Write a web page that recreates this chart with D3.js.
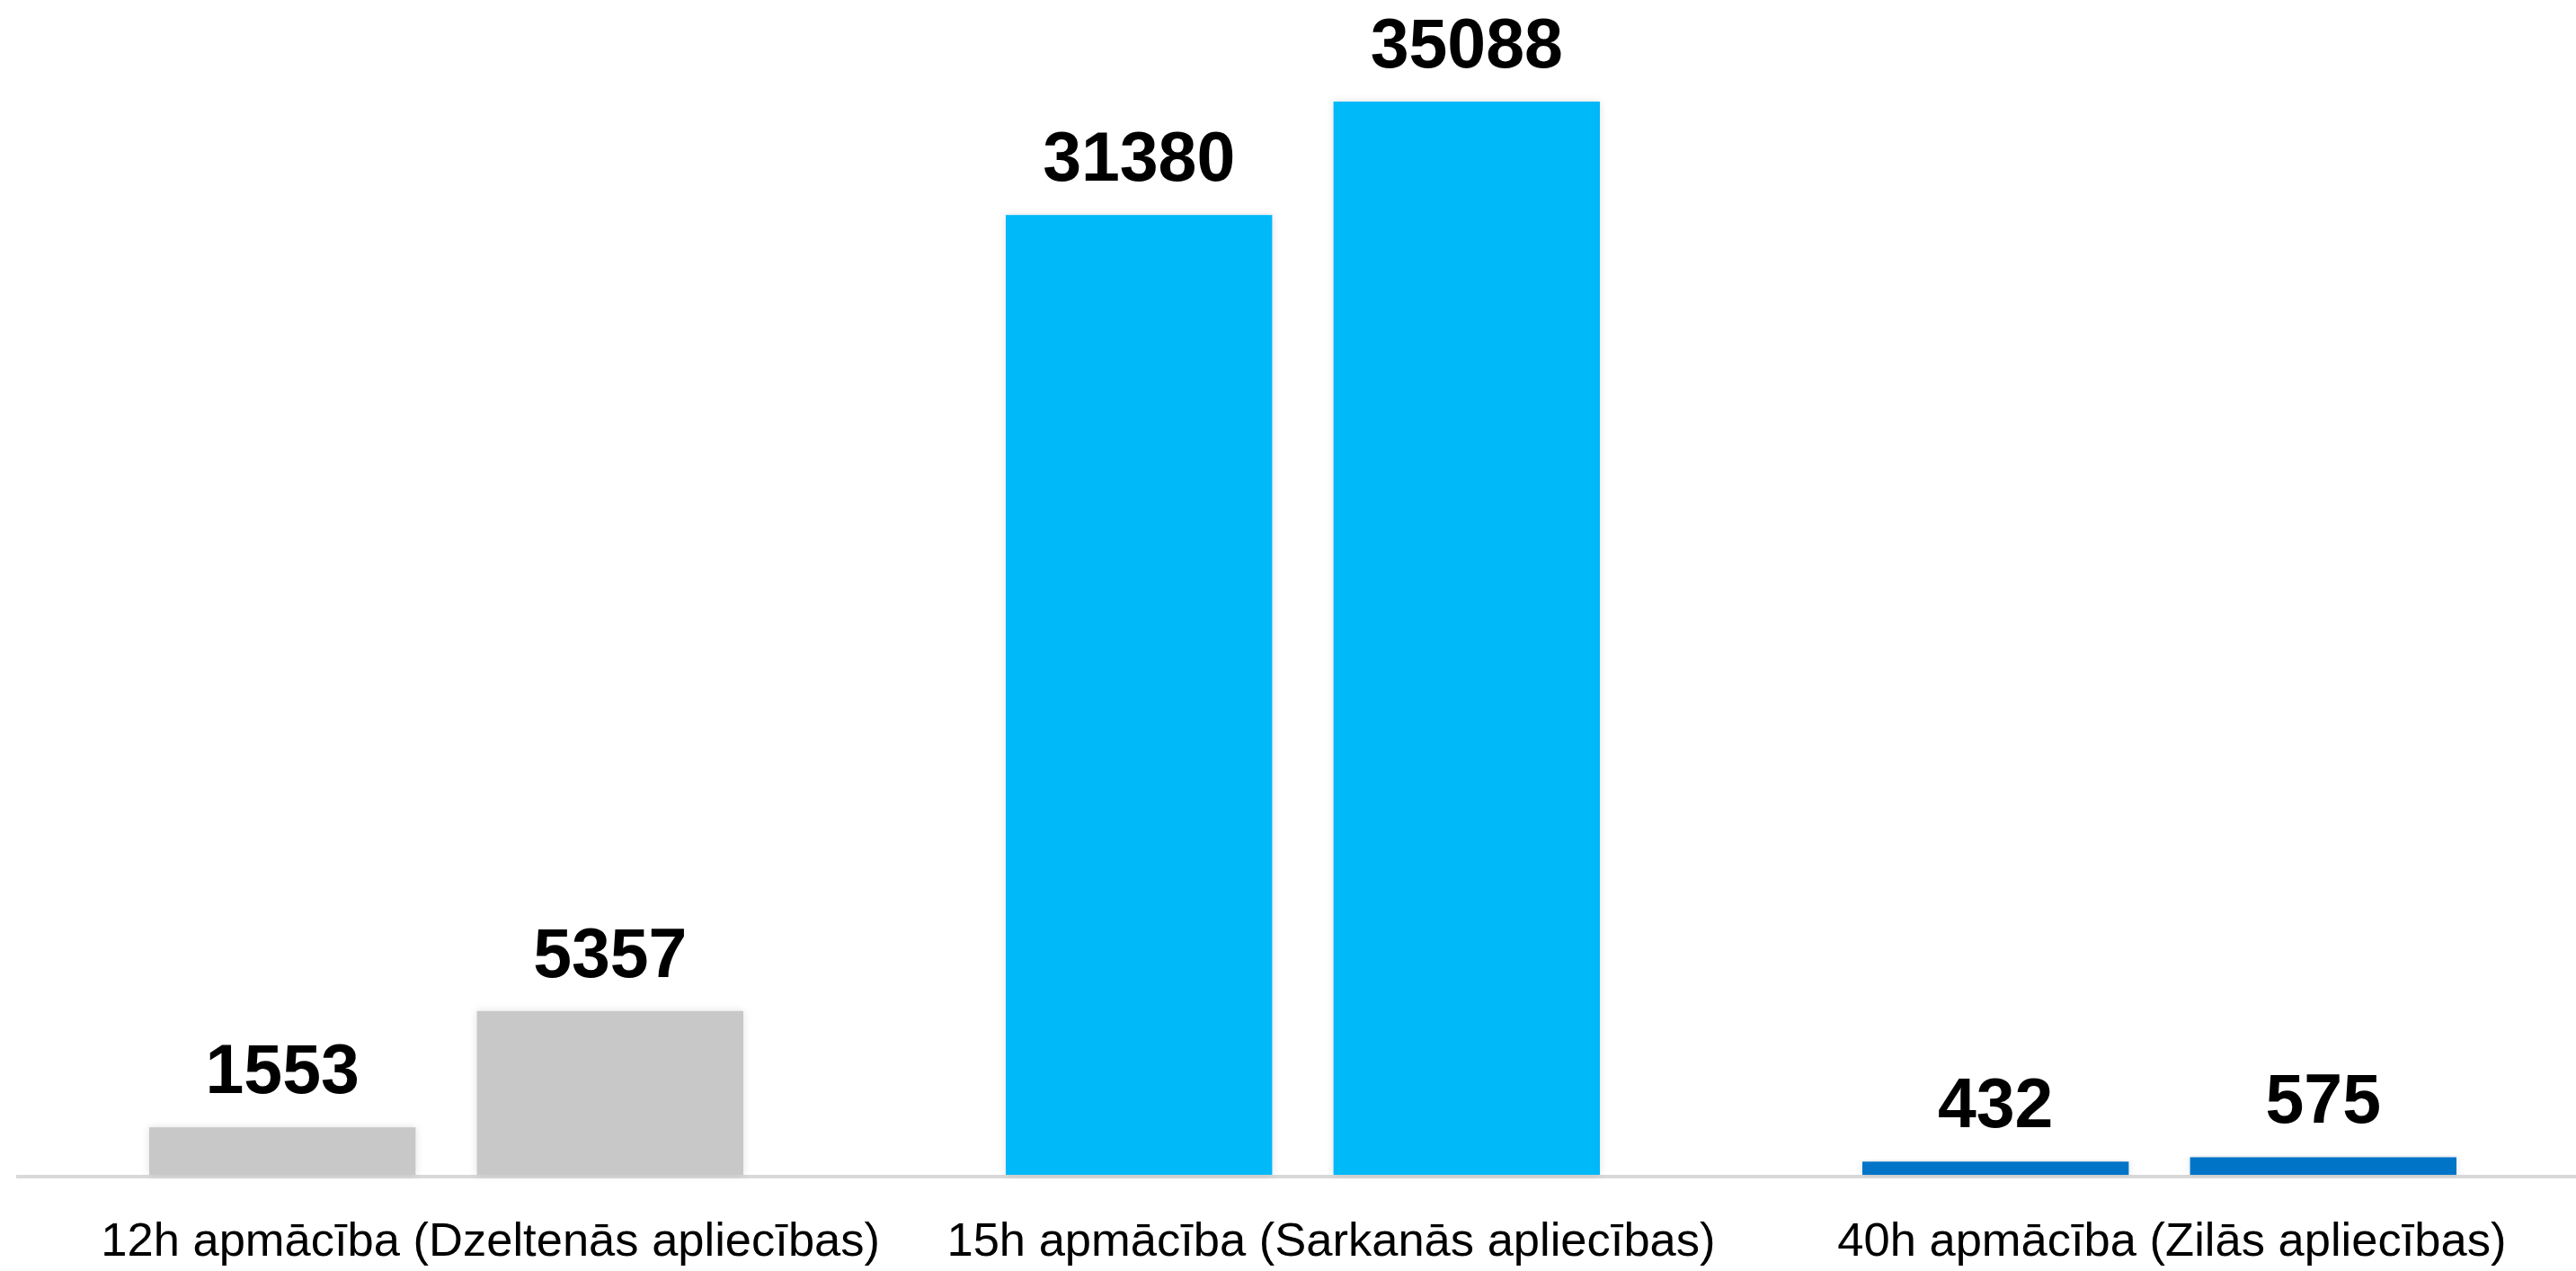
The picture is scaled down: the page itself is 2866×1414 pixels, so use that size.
<!DOCTYPE html>
<html>
<head>
<meta charset="utf-8">
<script src="https://cdn.jsdelivr.net/npm/d3@7"></script>
<style>
  body { margin: 0; background: #fff; }
  svg { display: block; }
  .value { font-family: 'Liberation Sans', Arial, sans-serif; font-weight: bold; fill: #000; }
  .cat { font-family: 'Liberation Sans', Arial, sans-serif; fill: #000; }
</style>
</head>
<body>
<svg id="chart"></svg>
<script>
const categories = [
  '12h apmācība (Dzeltenās apliecības)',
  '15h apmācība (Sarkanās apliecības)',
  '40h apmācība (Zilās apliecības)'
]
const series = ['a', 'b']
const valuesA = [1553, 31380, 432]
const valuesB = [5357, 35088, 575]
const colors = ['#c8c8c8', '#00b9f9', '#0474c8']

const dimensions = { w: 2866, h: 1414 }
const baseline = 1307

const svg = d3.select('#chart')
  .attr('width', dimensions.w)
  .attr('height', dimensions.h)

const defs = svg.append('defs')
const shadow = defs.append('filter')
  .attr('id', 'shadow')
  .attr('x', '-10%').attr('y', '-10%')
  .attr('width', '120%').attr('height', '120%')
shadow.append('feDropShadow')
  .attr('dx', 0).attr('dy', 0)
  .attr('stdDeviation', 4)
  .attr('flood-color', '#000')
  .attr('flood-opacity', 0.12)

const data = categories.map((c, i) => ({
  category: c,
  color: colors[i],
  bars: [
    { key: series[0], value: valuesA[i] },
    { key: series[1], value: valuesB[i] }
  ]
}))

const scales = {
  x0: d3.scaleBand()
    .domain(categories)
    .range([20, 2879]),
  // category labels sit a little off the bar groups in the original
  xLabel: d3.scaleBand()
    .domain(categories)
    .range([78, 2884]),
  y: d3.scaleLinear()
    .domain([0, 35088])
    .range([baseline, 113])
}
scales.x1 = d3.scaleBand()
  .domain(series)
  .range([146, scales.x0.bandwidth() - 146])
  .paddingInner(0.187)

// baseline
svg.append('line')
  .attr('x1', 18)
  .attr('x2', dimensions.w)
  .attr('y1', baseline + 2)
  .attr('y2', baseline + 2)
  .style('stroke', '#d9d9d9')
  .style('stroke-width', 4)

const groups = svg.selectAll('g.group')
  .data(data)
  .join('g')
  .attr('class', 'group')
  .attr('transform', d => `translate(${scales.x0(d.category)}, 0)`)

groups.selectAll('rect')
  .data(d => d.bars.map(b => ({ ...b, color: d.color })))
  .join('rect')
  .attr('x', d => scales.x1(d.key))
  .attr('y', d => scales.y(d.value))
  .attr('width', scales.x1.bandwidth())
  .attr('height', d => baseline - scales.y(d.value))
  .attr('filter', 'url(#shadow)')
  .style('fill', d => d.color)

groups.selectAll('text.value')
  .data(d => d.bars)
  .join('text')
  .attr('class', 'value')
  .attr('x', d => scales.x1(d.key) + scales.x1.bandwidth() / 2)
  .attr('y', d => scales.y(d.value) - 38)
  .attr('text-anchor', 'middle')
  .style('font-size', '77px')
  .text(d => d.value)

svg.selectAll('text.cat')
  .data(categories)
  .join('text')
  .attr('class', 'cat')
  .attr('x', d => scales.xLabel(d) + scales.xLabel.bandwidth() / 2)
  .attr('y', 1397)
  .attr('text-anchor', 'middle')
  .style('font-size', '52.5px')
  .text(d => d)
</script>
</body>
</html>
